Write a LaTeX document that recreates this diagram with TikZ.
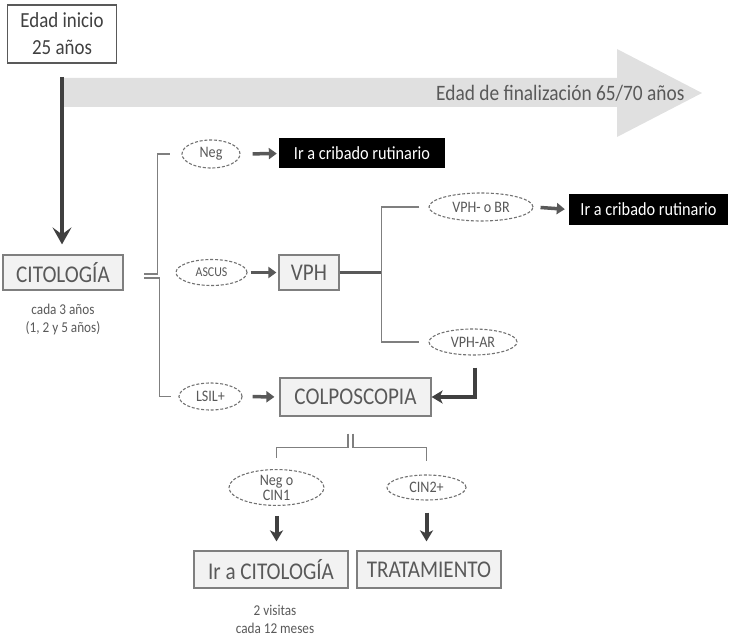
\documentclass[tikz,border=0pt]{standalone}
\usepackage{fontspec}
\setmainfont[FakeStretch=0.88]{Carlito}
\usetikzlibrary{arrows.meta,shapes.geometric,calc}
\definecolor{txt}{HTML}{595959}
\definecolor{boxline}{HTML}{7F7F7F}
\definecolor{boxfill}{HTML}{F2F2F2}
\definecolor{darkline}{HTML}{404040}
\definecolor{band}{HTML}{E0E0E0}
\newcommand{\fs}[1]{\fontsize{#1}{#1}\selectfont}
\begin{document}
\begin{tikzpicture}[x=1pt,y=-1pt,
  greybox/.style={draw=boxline, fill=boxfill, line width=1.2pt, text=txt,
    font=\fs{24}, inner sep=0pt},
  blackbox/.style={fill=black, text=white, font=\fs{18.5}, inner sep=0pt},
  result/.style={ellipse, draw=boxline!90!black, dashed, dash pattern=on 3pt off 1.8pt,
    line width=1.1pt, fill=white, text=txt, inner sep=0pt, font=\fs{16}},
  note/.style={text=txt, align=center, font=\fontsize{15}{18}\selectfont},
  thinline/.style={draw=boxline, line width=1.5pt},
  branchline/.style={draw=txt, line width=3pt},
  garrow/.style={draw=txt, line width=3.5pt, -{Triangle[width=11pt,length=8pt]}},
  darrow/.style={draw=darkline, line width=4.5pt, -{Stealth[width=19pt,length=17pt,inset=7pt]}},
  sarrow/.style={draw=darkline, line width=4pt, -{Stealth[width=13pt,length=11pt,inset=3pt]}}]
\useasboundingbox (0,0) rectangle (730,636);

% timeline band
\fill[band] (63,78) -- (617,78) -- (617,49) -- (702,93) -- (617,137)
  -- (617,107) -- (63,107) -- cycle;
\node[text=txt, font=\fs{22}, anchor=east] (fin) at (688,93) {Edad de finalización 65/70 años};

% start box
\node[draw=txt, fill=white, line width=1.2pt, text=darkline, align=center,
  minimum width=109pt, minimum height=58pt, inner sep=0pt,
  font=\fontsize{21.5}{27}\selectfont] (start) at (62,34) {Edad inicio\\25 años};

% main nodes
\node[greybox, minimum width=120pt, minimum height=35pt] (cito) at (63,272.5) {CITOLOGÍA};
\node[note] (citonote) at (63,319) {cada 3 años\\(1, 2 y 5 años)};

\node[result, minimum width=58pt, minimum height=28pt] (neg) at (211,154) {Neg};
\node[result, minimum width=71pt, minimum height=26pt, font=\fs{13.5}] (ascus) at (211.5,272.5) {ASCUS};
\node[result, minimum width=63pt, minimum height=27pt] (lsil) at (210.5,396.5) {LSIL+};

\node[blackbox, minimum width=166pt, minimum height=30pt] (crib1) at (362,153.5) {Ir a cribado rutinario};
\node[greybox, minimum width=60pt, minimum height=35pt] (vph) at (309,272.5) {VPH};
\node[greybox, minimum width=151pt, minimum height=38pt] (colpo) at (355.5,397) {COLPOSCOPIA};

\node[result, minimum width=104pt, minimum height=28pt] (vphm) at (481,207) {VPH- o BR};
\node[result, minimum width=88pt, minimum height=26pt] (vphar) at (473,342) {VPH-AR};
\node[blackbox, minimum width=159pt, minimum height=31pt] (crib2) at (648.5,209.5) {Ir a cribado rutinario};

\node[result, minimum width=95pt, minimum height=29pt, align=center,
  font=\fontsize{16}{15}\selectfont] (negcin) at (276.5,487.5) {Neg o\\CIN1};
\node[result, minimum width=79pt, minimum height=25pt] (cin2) at (426.5,487.5) {CIN2+};

\node[greybox, minimum width=154pt, minimum height=37pt] (ircito) at (271,569.5) {Ir a CITOLOGÍA};
\node[greybox, minimum width=144pt, minimum height=37pt] (trat) at (429,569.5) {TRATAMIENTO};
\node[note] (visnote) at (275,619) {2 visitas\\cada 12 meses};

% start arrow
\coordinate (tstart) at (62,77);
\draw[darrow, shorten >=10pt] (tstart) -- (tstart |- cito.north);

% citology bracket
\coordinate (jtop) at (144,274);
\coordinate (jbot) at (144,278);
\draw[thinline] (jtop) -| ($(neg.west)+(-24,0)$) -- ($(neg.west)+(-11,0)$);
\draw[thinline] (jbot) -| ($(lsil.west)+(-19,0)$) -- ($(lsil.west)+(-7,0)$);

% result arrows
\draw[garrow, shorten <=12pt, shorten >=2pt] (neg.east) -- (crib1.west);
\draw[garrow, shorten <=3pt, shorten >=2pt] (ascus.east) -- (vph.west);
\draw[garrow, shorten <=10pt, shorten >=5pt] (lsil.east) -- (colpo.west);
\draw[garrow, shorten <=7pt, shorten >=4pt] (vphm.east) -- (crib2.west);

% HPV branch
\coordinate (vsplit) at ($(vphm.west)+(-47,0)$);
\draw[branchline] (vph.east) -- (vsplit |- vph.east);
\draw[thinline] ($(vphm.west)+(-9,0)$) -- (vsplit) |- ($(vphar.west)+(-9,0)$);
\draw[sarrow] ($(vphar.south)+(2,12)$) |- (colpo.east);

% colposcopy bracket
\draw[thinline] ($(colpo.south)+(-7.5,17)$) -- ++(0,14) -| ($(negcin.north)+(0,-11)$);
\draw[thinline] ($(colpo.south)+(-2.5,17)$) -- ++(0,14) -| ($(cin2.north)+(0,-13)$);

% final arrows
\draw[sarrow, shorten <=10pt, shorten >=9pt] (negcin.south) -- (negcin.south |- ircito.north);
\draw[sarrow, shorten <=12pt, shorten >=9pt] (cin2.south) -- (cin2.south |- trat.north);
\end{tikzpicture}
\end{document}
